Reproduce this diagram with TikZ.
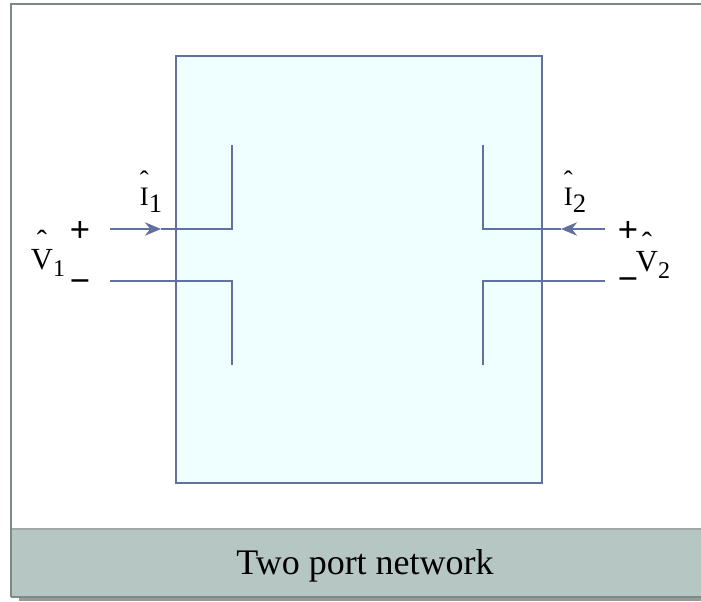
\documentclass[tikz,border=0pt]{standalone}
\usepackage{fontspec}
\setmainfont{Liberation Serif}
\setsansfont{Liberation Sans}
\usepackage{xcolor}
\usetikzlibrary{arrows.meta}

\definecolor{frameline}{RGB}{125,138,132}
\definecolor{bandtop}{RGB}{160,168,165}
\definecolor{bandfill}{RGB}{182,198,194}
\definecolor{shadowgrey}{RGB}{153,153,153}
\definecolor{netline}{RGB}{98,112,160}
\definecolor{netfill}{RGB}{239,254,254}

% small raised caret over a letter
\newcommand{\caretover}[1]{\ooalign{#1\cr\hidewidth\raisebox{0.6em}{ˆ}\hidewidth\cr}}

\tikzset{
  wire/.style={draw=netline, line width=1.6pt},
  feed/.style={wire, -{Stealth[length=12pt,width=10pt]}},
  sign/.style={font=\sffamily\fontsize{26}{26}\selectfont, inner sep=0pt},
  curlbl/.style={font=\fontsize{20}{20}\selectfont, anchor=base, inner sep=0pt},
  vollbl/.style={font=\fontsize{23}{23}\selectfont, anchor=base, inner sep=0pt},
}

\begin{document}
\begin{tikzpicture}[x=0.75pt,y=0.75pt,yscale=-1,xscale=1]
        \useasboundingbox (0,0) rectangle (701,602);
        
        %Shape: Frame
        \fill [shadowgrey] (19,597) rectangle (705,601) ;
        \fill [white] (11,4) rectangle (705,597) ;
        \fill [bandfill] (11,529) rectangle (705,597) ;
        \draw [bandtop, line width=1.5pt] (11,529) -- (705,529) ;
        \draw [frameline, line width=1.5pt] (11,597) -- (705,597) ;
        \draw [frameline, line width=1.5pt] (705,4) -- (11,4) -- (11,597) ;
        
        %Shape: Rectangle [network]
        \draw [wire, fill=netfill] (176,56) rectangle (542,483) ;
        
        % Port coordinates
        \coordinate (pos1) at (110,229) ;
        \coordinate (neg1) at (110,281) ;
        \coordinate (tip1) at (161,229) ;
        \coordinate (bendA1) at (232,229) ;
        \coordinate (endA1) at (232,145) ;
        \coordinate (bendB1) at (232,281) ;
        \coordinate (endB1) at (232,365) ;
        \coordinate (pos2) at (605,229) ;
        \coordinate (neg2) at (605,281) ;
        \coordinate (tip2) at (561,229) ;
        \coordinate (bendA2) at (483,229) ;
        \coordinate (endA2) at (483,145) ;
        \coordinate (bendB2) at (483,281) ;
        \coordinate (endB2) at (483,365) ;
        
        % Port 1
        \draw [feed] (pos1) -- (tip1) ;
        \draw [wire] (tip1) -- (bendA1) -- (endA1) ;
        \draw [wire] (neg1) -- (bendB1) -- (endB1) ;
        % Port 2
        \draw [feed] (pos2) -- (tip2) ;
        \draw [wire] (tip2) -- (bendA2) -- (endA2) ;
        \draw [wire] (neg2) -- (bendB2) -- (endB2) ;
        
        % Text Node
        \node (plus1) [sign] at (80,231) {+} ;
        % Text Node
        \node (minus1) [sign] at (80,282) {\vphantom{+}−} ;
        % Text Node
        \node (plus2) [sign] at (628,231) {+} ;
        % Text Node
        \node (minus2) [sign] at (628,280) {\vphantom{+}−} ;
        
        % Text Node
        \node (curI1) [curlbl] at (151,206) {\caretover{I}\raisebox{-5pt}{1}} ;
        % Text Node
        \node (curI2) [curlbl] at (575,206) {\caretover{I}\raisebox{-5pt}{2}} ;
        % Text Node
        \node (volV1) [vollbl] at (48,270) {\caretover{V}\raisebox{-5pt}{\fontsize{18}{18}\selectfont 1}} ;
        % Text Node
        \node (volV2) [vollbl] at (653,272) {\caretover{V}\raisebox{-5pt}{\fontsize{18}{18}\selectfont 2}} ;
        
        % Text Node
        \node (title) [anchor=base, inner sep=0pt, font=\fontsize{27}{27}\selectfont] at (365,575) {Two port network} ;
        
\end{tikzpicture}
\end{document}
